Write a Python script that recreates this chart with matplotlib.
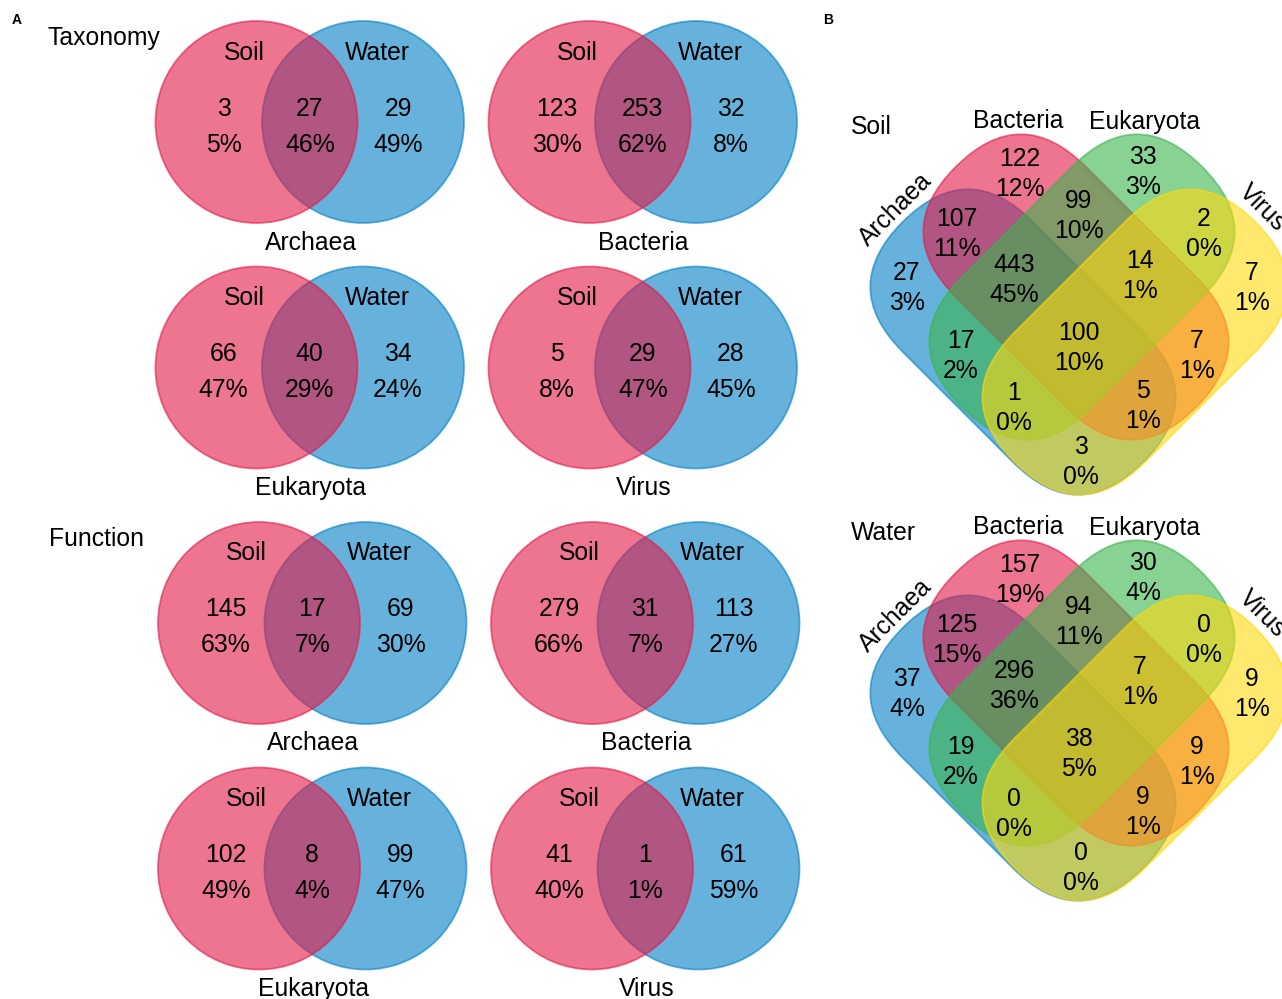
import numpy as np
import matplotlib.pyplot as plt
from matplotlib.patches import Circle, FancyBboxPatch
from matplotlib.transforms import Affine2D

plt.rcParams['font.family'] = ['Liberation Sans', 'DejaVu Sans']

# Soil vs Water, per domain (only soil / shared / only water)
groups = ['Archaea', 'Bacteria', 'Eukaryota', 'Virus']
tax_soil = [3, 123, 66, 5]
tax_both = [27, 253, 40, 29]
tax_water = [29, 32, 34, 28]
fun_soil = [145, 279, 102, 41]
fun_both = [17, 31, 8, 1]
fun_water = [69, 113, 99, 61]

# four domains inside each environment
# A=Archaea B=Bacteria E=Eukaryota V=Virus
regions = ['A', 'B', 'E', 'V', 'AB', 'BE', 'EV', 'ABE', 'BEV', 'ABEV',
           'AE', 'BV', 'AEV', 'ABV', 'AV']
soil4 = [27, 122, 33, 7, 107, 99, 2, 443, 14, 100, 17, 7, 1, 5, 3]
water4 = [37, 157, 30, 9, 125, 94, 0, 296, 7, 38, 19, 9, 0, 9, 0]

pink = '#E41946'
blue = '#007FC5'
green = '#39B44D'
yellow = '#FFD90D'
FS = 17.8


def txt(ax, x, y, s, **kw):
    kw.setdefault('ha', 'center')
    ax.text(x, y + 2.5, s, va='center', fontsize=kw.pop('fontsize', FS), **kw)


def pct(v, total):
    return '%d%%' % round(100 * v / total)


def pair(ax, cx, cy, soil, both, water, name):
    d = 106.5
    r = 101
    total = soil + both + water
    ax.add_patch(Circle((cx + d, cy), r, fc=blue, ec=blue, alpha=0.6, lw=1.3))
    ax.add_patch(Circle((cx, cy), r, fc=pink, ec=pink, alpha=0.6, lw=1.3))
    txt(ax, cx - 12.5, cy - 72, 'Soil')
    txt(ax, cx + d + 14, cy - 72, 'Water')
    for x, v in zip([cx - 33, cx + d / 2, cx + d + 35], [soil, both, water]):
        txt(ax, x, cy - 16, str(v))
        txt(ax, x, cy + 20, pct(v, total))
    txt(ax, cx + d / 2 + 1, cy + 118, name)


def capsule(ax, cx, cy, half, r, ang, c):
    # stadium shape: straight spine of length 2*half, round ends of radius r
    p = FancyBboxPatch((cx - half - r, cy - r), 2 * (half + r), 2 * r,
                       boxstyle='round,pad=0,rounding_size=%g' % r,
                       fc=c, ec=c, alpha=0.6, lw=1.3)
    p.set_transform(Affine2D().rotate_deg_around(cx, cy, ang) + ax.transData)
    ax.add_patch(p)


# label offsets of each region from the diagram centre
label_pos = {'A': (-172, -14), 'B': (-59, -127), 'E': (64, -129), 'V': (173, -14),
             'AB': (-122, -68), 'BE': (0, -86), 'EV': (125, -68),
             'ABE': (-65, -21), 'BEV': (61, -26), 'ABEV': (0, 46),
             'AE': (-118, 55), 'BV': (118, 55), 'AEV': (-65, 106),
             'ABV': (64, 105), 'AV': (2, 161)}


def quad(ax, ox, oy, counts, title):
    total = sum(counts)
    # Archaea, Bacteria, Eukaryota, Virus
    shapes = [(-56, 58, 78, 45, blue),
              (-3, 3, 78, 45, pink),
              (3, 3, 78, -45, green),
              (56, 58, 78, -45, yellow)]
    for dx, dy, half, ang, c in shapes:
        capsule(ax, ox + dx, oy + dy, half, 92, ang, c)
    for reg, v in zip(regions, counts):
        dx, dy = label_pos[reg]
        txt(ax, ox + dx, oy + dy, str(v))
        txt(ax, ox + dx, oy + dy + 30, pct(v, total))
    txt(ax, ox - 228, oy - 160, title, ha='left')
    txt(ax, ox - 61, oy - 165, 'Bacteria')
    txt(ax, ox + 66, oy - 164, 'Eukaryota')
    ax.text(ox - 183, oy - 75, 'Archaea', ha='center', va='center', fontsize=FS,
            rotation=45, rotation_mode='anchor')
    ax.text(ox + 184, oy - 76, 'Virus', ha='center', va='center', fontsize=FS,
            rotation=-45, rotation_mode='anchor')


fig = plt.figure(figsize=(12.82, 9.99), dpi=100)
ax = fig.add_axes([0, 0, 1, 1])
ax.set_xlim(0, 1282)
ax.set_ylim(999, 0)
ax.set_aspect('equal')
ax.axis('off')

rows = [(256.5, 122, tax_soil, tax_both, tax_water),
        (259, 623, fun_soil, fun_both, fun_water)]
for x0, y0, s, b, w in rows:
    for i in range(4):
        cx = x0 + 333 * (i % 2)
        cy = y0 + 245.5 * (i // 2)
        pair(ax, cx, cy, s[i], b[i], w[i], groups[i])

txt(ax, 48, 36, 'Taxonomy', ha='left')
txt(ax, 49, 537, 'Function', ha='left')

quad(ax, 1079, 284, soil4, 'Soil')
quad(ax, 1079, 690, water4, 'Water')

txt(ax, 12, 17, 'A', ha='left', fontsize=10, fontweight='bold')
txt(ax, 823, 17, 'B', ha='left', fontsize=10, fontweight='bold')

fig.savefig('out.png', dpi=100)
